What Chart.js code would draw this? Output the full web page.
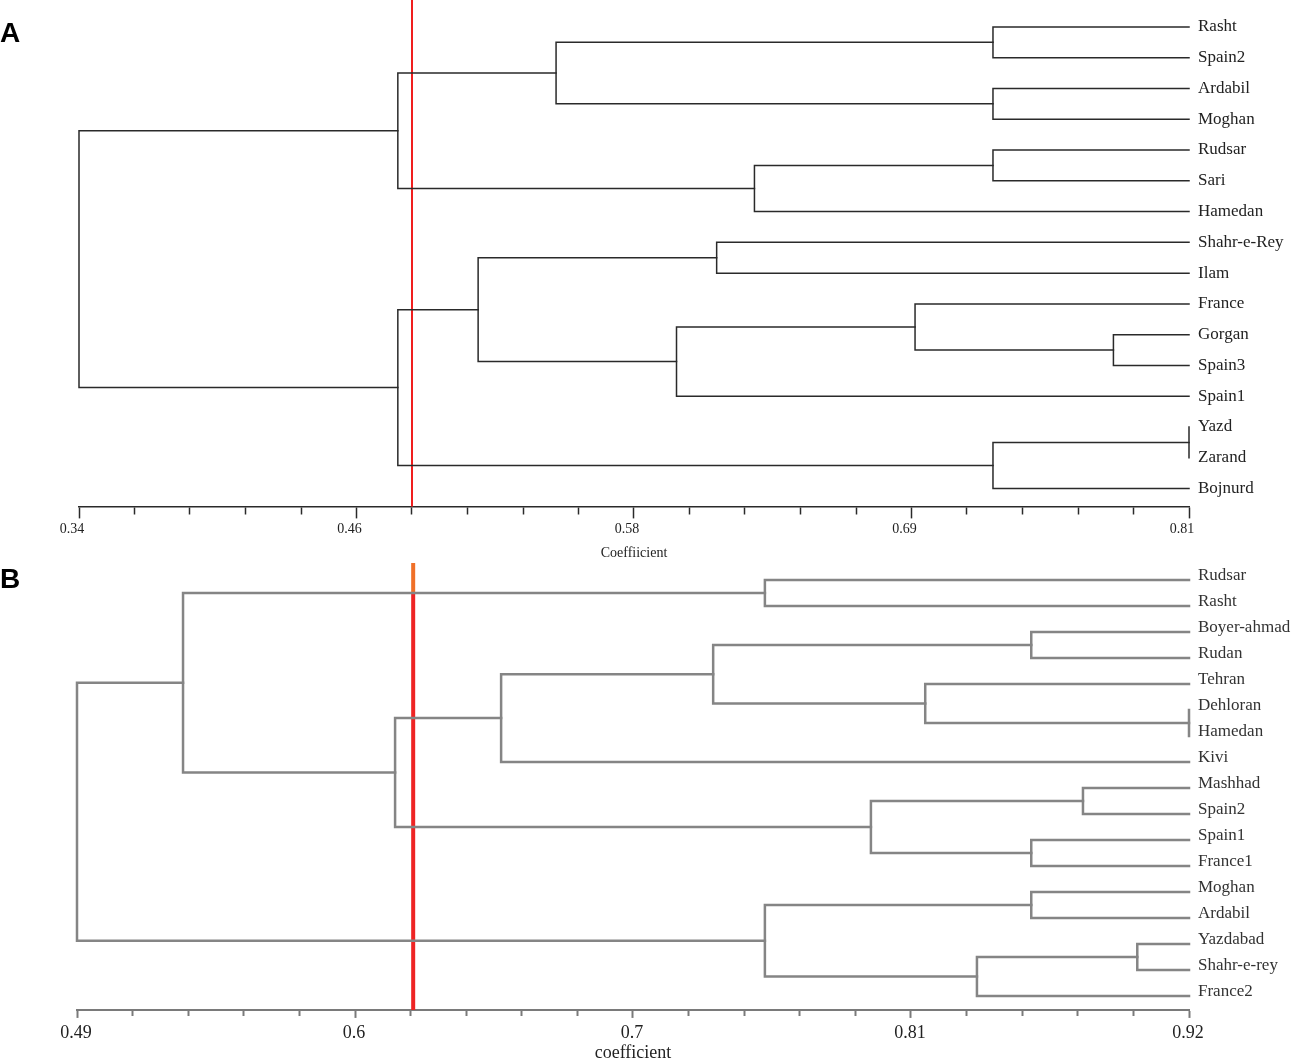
<!DOCTYPE html>
<html><head><meta charset="utf-8">
<script src="https://cdn.jsdelivr.net/npm/chart.js@4.4.0/dist/chart.umd.min.js"></script>
<style>
html,body{margin:0;padding:0;background:#fff;overflow:hidden;width:1293px;height:1059px;}
#wrap{position:relative;width:1293px;height:1059px;overflow:hidden;}
canvas{position:absolute;left:0;}
#cA{top:0;width:1293px;height:564px;}
#cB{top:563px;width:1293px;height:495px;}
.panel{position:absolute;left:0;font-family:'Liberation Sans',Arial,sans-serif;font-weight:bold;font-size:28px;line-height:28px;color:#000;}
</style></head><body>
<div id="wrap">
<canvas id="cA" width="1293" height="564"></canvas>
<canvas id="cB" width="1293" height="495"></canvas>
<div class="panel" style="top:19px">A</div>
<div class="panel" style="top:565px">B</div>
</div>
<script>
// ---------- Panel A data ----------
const leavesA = ['Rasht','Spain2','Ardabil','Moghan','Rudsar','Sari','Hamedan','Shahr-e-Rey','Ilam','France','Gorgan','Spain3','Spain1','Yazd','Zarand','Bojnurd'];
// merge k creates node (leaves.length + k); children are leaf indices or earlier nodes
const mergeLeftA   = [0, 2, 16, 4, 19, 18, 7, 10, 9, 24, 22, 13, 27, 26, 21];
const mergeRightA  = [1, 3, 17, 5, 6, 20, 8, 11, 23, 12, 25, 14, 15, 28, 29];
const mergeHeightA = [0.727, 0.727, 0.542, 0.727, 0.626, 0.475, 0.610, 0.778, 0.694, 0.593, 0.509, 0.81, 0.727, 0.475, 0.34];
const cutA = 0.481;
const majorTicksA = [0.34, 0.4575, 0.575, 0.6925, 0.81];
const tickLabelsA = ['0.34', '0.46', '0.58', '0.69', '0.81'];

// ---------- Panel B data ----------
const leavesB = ['Rudsar','Rasht','Boyer-ahmad','Rudan','Tehran','Dehloran','Hamedan','Kivi','Mashhad','Spain2','Spain1','France1','Moghan','Ardabil','Yazdabad','Shahr-e-rey','France2'];
const mergeLeftB   = [0, 2, 5, 4, 18, 21, 8, 10, 23, 22, 17, 12, 14, 29, 28, 27];
const mergeRightB  = [1, 3, 6, 19, 20, 7, 9, 11, 24, 25, 26, 13, 15, 16, 30, 31];
const mergeHeightB = [0.756, 0.859, 0.92, 0.818, 0.736, 0.654, 0.879, 0.859, 0.797, 0.613, 0.531, 0.859, 0.90, 0.838, 0.756, 0.49];
const cutB = 0.620;
const majorTicksB = [0.49, 0.5975, 0.705, 0.8125, 0.92];
const tickLabelsB = ['0.49', '0.6', '0.7', '0.81', '0.92'];

const SERIF = "'Liberation Serif','Times New Roman',serif";

function buildTree(leaves, left, right, height, leafX) {
  const pos = leaves.map((_, i) => i);
  const hx = leaves.map(() => leafX);
  const segs = [];
  for (let k = 0; k < left.length; k++) {
    const a = left[k], b = right[k], h = height[k];
    segs.push([{x: hx[a], y: pos[a]}, {x: h, y: pos[a]}, {x: h, y: pos[b]}, {x: hx[b], y: pos[b]}]);
    pos.push((pos[a] + pos[b]) / 2);
    hx.push(h);
  }
  return segs;
}

function tickList(majors, sub) {
  const out = [];
  for (let i = 0; i < majors.length - 1; i++) {
    for (let j = 0; j < sub; j++) out.push(majors[i] + (majors[i + 1] - majors[i]) * j / sub);
  }
  out.push(majors[majors.length - 1]);
  return out;
}

function majorIndex(majors, v) {
  return majors.findIndex(m => Math.abs(m - v) < 1e-6);
}

function makeChart(id, o) {
  const segs = buildTree(o.leaves, o.left, o.right, o.height, o.xMax);
  const datasets = segs.map(s => ({
    data: s, showLine: true, borderColor: o.lineColor, borderWidth: o.lineWidth,
    pointRadius: 0, fill: false, tension: 0, clip: false, borderJoinStyle: 'miter', borderCapStyle: 'square'
  }));
  o.cuts.forEach(c => datasets.push({
    data: [{x: c.x, y: c.y0}, {x: c.x, y: c.y1}], showLine: true, borderColor: c.color,
    borderWidth: c.width, pointRadius: 0, fill: false, clip: false
  }));
  const ticks = tickList(o.majors, 5);
  return new Chart(document.getElementById(id), {
    type: 'scatter',
    data: {datasets},
    options: {
      responsive: false, animation: false, events: [], devicePixelRatio: 1,
      layout: {padding: {left: o.padLeft, right: 0, top: 0, bottom: 0}},
      plugins: {legend: {display: false}, tooltip: {enabled: false}},
      scales: {
        x: {
          type: 'linear', position: 'bottom', min: o.xMin, max: o.xMax,
          afterBuildTicks: s => { s.ticks = ticks.map(v => ({value: v})); },
          ticks: {
            autoSkip: false, maxRotation: 0, minRotation: 0, padding: o.tickPad, labelOffset: o.labelOffset,
            color: '#222', font: {family: SERIF, size: o.tickFont, lineHeight: o.tickLH},
            callback: v => { const i = majorIndex(o.majors, v); return i >= 0 ? o.tickLabels[i] : ''; }
          },
          grid: {
            drawOnChartArea: false, drawTicks: true, tickLength: o.tickLen,
            tickColor: o.axisColor, tickWidth: o.axisWidth,
            tickBorderDash: ctx => (ctx.tick && majorIndex(o.majors, ctx.tick.value) >= 0) ? [] : [o.minorLen, 100]
          },
          border: {display: true, color: o.axisColor, width: o.axisWidth},
          title: {display: true, text: o.title, color: '#222', font: {family: SERIF, size: o.titleFont, lineHeight: o.titleLH}, padding: o.titlePad}
        },
        y: {
          type: 'linear', position: 'right', reverse: true, min: o.yMin, max: o.yMax,
          afterBuildTicks: s => { s.ticks = o.leaves.map((_, i) => ({value: i})); },
          afterFit: s => { s.width = o.labelWidth; s.paddingTop = 0; s.paddingBottom = 0; },
          ticks: {
            autoSkip: false, padding: 9, crossAlign: 'near', color: o.labelColor, labelOffset: o.leafOffset,
            font: {family: SERIF, size: 17, lineHeight: 1.2},
            callback: v => o.leaves[v]
          },
          grid: {display: false, drawTicks: false},
          border: {display: false}
        }
      }
    }
  });
}

makeChart('cA', {
  leaves: leavesA, left: mergeLeftA, right: mergeRightA, height: mergeHeightA,
  xMin: 0.34, xMax: 0.81, yMin: -0.875, yMax: 15.58,
  majors: majorTicksA, tickLabels: tickLabelsA, labelOffset: -7, tickPad: 3, tickLH: 1.2,
  lineColor: '#2a2a2a', lineWidth: 1.5, axisColor: '#2a2a2a', axisWidth: 1.5,
  tickLen: 12, minorLen: 7, tickFont: 14, titleFont: 14, titleLH: 1.2, title: 'Coeffiicient', titlePad: {top: 4, bottom: 2},
  padLeft: 79, labelWidth: 104, labelColor: '#222', leafOffset: 0,
  cuts: [{x: cutA, y0: -0.875, y1: 15.58, color: '#f01e1e', width: 2}]
});

makeChart('cB', {
  leaves: leavesB, left: mergeLeftB, right: mergeRightB, height: mergeHeightB,
  xMin: 0.49, xMax: 0.92, yMin: -0.654, yMax: 16.54,
  majors: majorTicksB, tickLabels: tickLabelsB, labelOffset: -1, tickPad: 6, tickLH: 1.0,
  lineColor: '#858585', lineWidth: 2.5, axisColor: '#7a7a7a', axisWidth: 2,
  tickLen: 8, minorLen: 5, tickFont: 18, titleFont: 18, titleLH: 0.56, title: 'coefficient', titlePad: {top: 0, bottom: 0},
  padLeft: 77, labelWidth: 104, labelColor: '#333', leafOffset: -4,
  cuts: [
    {x: cutB, y0: 0.5, y1: 16.54, color: '#ee2424', width: 4},
    {x: cutB, y0: -0.654, y1: 0.5, color: '#f07028', width: 4}
  ]
});
</script>
</body></html>
